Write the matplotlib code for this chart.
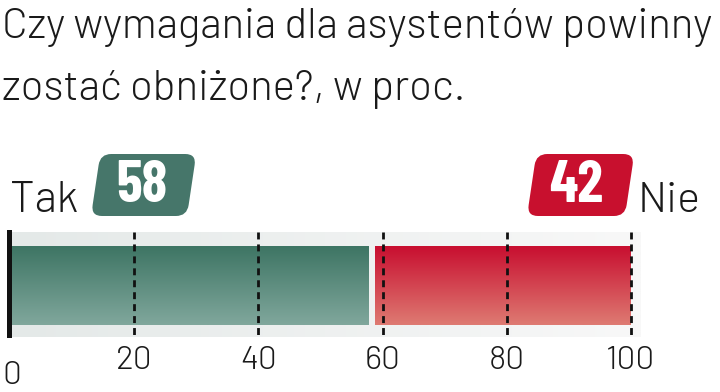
import numpy as np
import matplotlib
matplotlib.use("Agg")
import matplotlib.pyplot as plt
from matplotlib.patches import FancyBboxPatch, Rectangle
from matplotlib.transforms import Affine2D
from matplotlib.colors import to_rgb

plt.rcParams['lines.scale_dashes'] = False

title_lines = ["Czy wymagania dla asystentów powinny", "zostać obniżone?, w proc."]
categories = ["Tak", "Nie"]
values = [58, 42]
tick_values = [0, 20, 40, 60, 80, 100]
tick_labels = ["0", "20", "40", "60", "80", "100"]

W, H = 720, 392
fig = plt.figure(figsize=(W / 100, H / 100), dpi=100)
ax = fig.add_axes([0, 0, 1, 1])
scale = 6.21
x0px = 10
ax.set_xlim(-x0px / scale, (W - x0px) / scale)
ax.set_ylim(H, 0)
ax.axis('off')

def px(x):
    return (x - x0px) / scale

LIGHT = dict(family=['Barlow', 'DejaVu Sans'], weight=300)
BOLD = dict(family=['Barlow Condensed', 'DejaVu Sans'], weight='bold')
txt_col = '#1a1a1a'

# title
for i, line in enumerate(title_lines):
    ax.text(px(2), 38 + 62 * i, line, fontsize=30.3, color=txt_col,
            ha='left', va='baseline', **LIGHT)

def vgrad(top, bottom, n=64):
    t = np.linspace(0, 1, n)[:, None, None]
    a = np.array(to_rgb(top))[None, None, :]
    b = np.array(to_rgb(bottom))[None, None, :]
    return a + (b - a) * t

def hgrad(left, right, n=64):
    t = np.linspace(0, 1, n)[None, :, None]
    a = np.array(to_rgb(left))[None, None, :]
    b = np.array(to_rgb(right))[None, None, :]
    return a + (b - a) * t

# background track
ax.imshow(hgrad('#e4e9e8', '#f8f8f8'), extent=(0, 101.5, 337, 232), aspect='auto',
          interpolation='bilinear', zorder=1)

# bars
bar_cols = [('#3e7564', '#80a79c'), ('#c80f30', '#de7a72')]
starts = np.concatenate([[0], np.cumsum(values)[:-1]])
gaps = [(0, -0.35), (0.8, 0)]
for s, v, (ct, cb), (g0, g1) in zip(starts, values, bar_cols, gaps):
    ax.imshow(vgrad(ct, cb), extent=(s + g0, s + v + g1, 325, 246), aspect='auto',
              interpolation='bilinear', zorder=2)

# grid dashes
ax.vlines(tick_values[1:], 232, 338, colors='#111111', linewidth=2.0,
          linestyles=[(0, (5.0, 3.6))], zorder=3)
# zero axis bar
ax.add_patch(Rectangle((-0.5, 230), 0.85, 108, color='#111111', zorder=4, lw=0))

# tick labels
for v, lab in zip(tick_values, tick_labels):
    if v == 0:
        ax.text(px(2), 391.5, lab, fontsize=24, color=txt_col, ha='left',
                va='bottom', **LIGHT)
    else:
        ax.text(v, 369, lab, fontsize=24, color=txt_col, ha='center',
                va='baseline', **LIGHT)

# labels and badges
def badge(x_left_bottom, y_img_top, w, h, color, text, dx=0):
    y_disp = H - (y_img_top + h)
    tr = Affine2D().skew_deg(8.5, 0).translate(x_left_bottom, y_disp)
    p = FancyBboxPatch((0, 0), w, h, boxstyle='round,pad=0,rounding_size=11',
                       fc=color, ec='none', transform=tr, zorder=5)
    fig.patches.append(p)
    p.set_figure(fig)
    cx = x_left_bottom + w / 2 + np.tan(np.radians(8.5)) * h / 2 + dx
    fig.text(cx / W, (y_disp + h / 2 - 1) / H, text, color='white', fontsize=42,
             ha='center', va='center', zorder=6, **BOLD)

badge(91, 154, 96, 62, '#46766a', str(values[0]), dx=-2)
badge(527, 154, 98, 62, '#c8102e', str(values[1]), dx=-5)

ax.text(px(10), 212, categories[0], fontsize=31.5, color=txt_col,
        ha='left', va='baseline', **LIGHT)
ax.text(px(638), 212, categories[1], fontsize=31, color=txt_col,
        ha='left', va='baseline', **LIGHT)

fig.savefig('out.png', dpi=100)
